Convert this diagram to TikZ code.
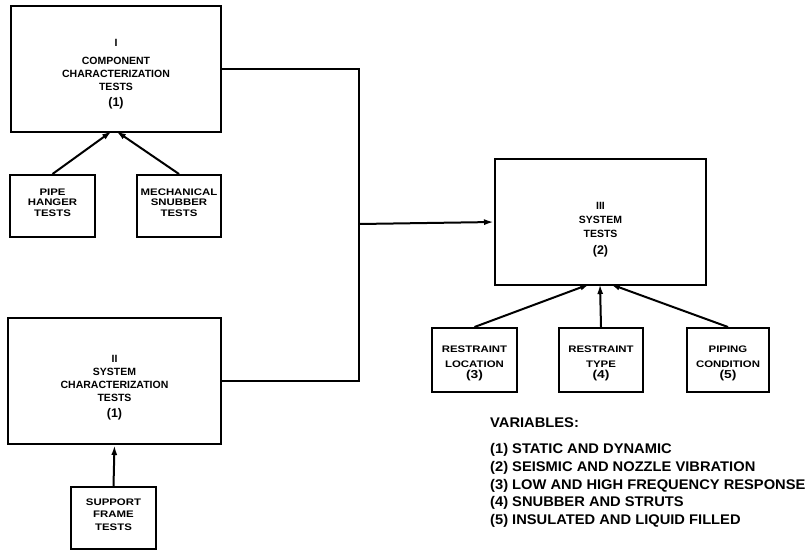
\documentclass[tikz,border=0pt]{standalone}
\usepackage{fontspec}
\setmainfont{Liberation Sans}
\newfontfamily\smallfont[FakeStretch=1.2]{Liberation Sans}
\newfontfamily\legfont[FakeStretch=1.05]{Liberation Sans}
\usetikzlibrary{arrows.meta}
\begin{document}
\begin{tikzpicture}[x=1pt,y=-1pt,
  box/.style={draw,line width=2pt,inner sep=0pt},
  bigtext/.style={inner sep=0pt,align=center,font=\bfseries\fontsize{10.5}{13}\selectfont},
  smalltext/.style={inner sep=0pt,align=center,font=\smallfont\bfseries\fontsize{9.5}{10.5}\selectfont},
  legend/.style={inner sep=0pt,anchor=base west,font=\legfont\bfseries\fontsize{14}{16}\selectfont},
  conn/.style={line width=2pt},
  arr/.style={line width=2pt,-{Latex[length=10pt,width=6pt]}}]
\useasboundingbox (0,0) rectangle (806,550);
% main boxes
\node[box,minimum width=210pt,minimum height=126pt] (I) at (116,68.5) {};
\node[bigtext] (It) at ([yshift=-5.5pt]I.center)
  {I\\[5pt]COMPONENT\\CHARACTERIZATION\\TESTS\\[3pt]{\fontsize{12.5}{13}\selectfont(1)}};
\node[box,minimum width=213pt,minimum height=126pt] (II) at (114.5,381) {};
\node[bigtext] (IIt) at ([yshift=-6.5pt]II.center)
  {II\\SYSTEM\\CHARACTERIZATION\\TESTS\\[3pt]{\fontsize{12.5}{13}\selectfont(1)}};
\node[box,minimum width=211pt,minimum height=126pt] (III) at (600.5,222) {};
\node[bigtext,font=\bfseries\fontsize{10.5}{14}\selectfont] (IIIt) at ([yshift=-7.5pt]III.center)
  {III\\SYSTEM\\TESTS\\[3pt]{\fontsize{12.5}{13}\selectfont(2)}};
% small boxes
\node[box,minimum width=85pt,minimum height=62pt] (hanger) at (52.5,206) {};
\node[smalltext] (hangert) at ([yshift=3.5pt]hanger.center) {PIPE\\HANGER\\TESTS};
\node[box,minimum width=84pt,minimum height=62pt] (snubber) at (179,206) {};
\node[smalltext] (snubbert) at ([yshift=3.5pt]snubber.center) {MECHANICAL\\SNUBBER\\TESTS};
\node[box,minimum width=85pt,minimum height=62pt] (support) at (113.5,518) {};
\node[smalltext,font=\smallfont\bfseries\fontsize{9.5}{12.5}\selectfont] (supportt) at ([yshift=3.5pt]support.center) {SUPPORT\\FRAME\\TESTS};
\node[box,minimum width=85pt,minimum height=64pt] (loc) at (474.5,360) {};
\node[smalltext] (loct) at ([yshift=-3.5pt]loc.center) {RESTRAINT\\[4pt]LOCATION\\[1pt]{\fontsize{11.5}{12}\selectfont(3)}};
\node[box,minimum width=84pt,minimum height=64pt] (type) at (601,360) {};
\node[smalltext] (typet) at ([yshift=-3.5pt]type.center) {RESTRAINT\\[4pt]TYPE\\[1pt]{\fontsize{11.5}{12}\selectfont(4)}};
\node[box,minimum width=82pt,minimum height=64pt] (pipe) at (728,360) {};
\node[smalltext] (pipet) at ([yshift=-3.5pt]pipe.center) {PIPING\\[4pt]CONDITION\\[1pt]{\fontsize{11.5}{12}\selectfont(5)}};
% connection points
\coordinate (Ia) at (112,131);
\coordinate (Ib) at (116,131);
\coordinate (IIIa) at (590,284);
\coordinate (IIIb) at (600,284);
\coordinate (IIIc) at (610,284);
\coordinate (jx) at (359,224);
% connectors
\draw[arr] (hanger.north) -- (Ia);
\draw[arr] (snubber.north) -- (Ib);
\draw[arr] (support.north) -- (II.south);
\draw[conn] (I.east) -| (jx) |- (II.east);
\draw[arr] (jx) -- (III.west);
\draw[arr] (loc.north) -- (IIIa);
\draw[arr] (type.north) -- (IIIb);
\draw[arr] (pipe.north) -- (IIIc);
% legend
\node[legend] (v0) at (490,427) {VARIABLES:};
\node[legend] (v1) at (490,453) {(1) STATIC AND DYNAMIC};
\node[legend] (v2) at (490,471) {(2) SEISMIC AND NOZZLE VIBRATION};
\node[legend] (v3) at (490,489) {(3) LOW AND HIGH FREQUENCY RESPONSE};
\node[legend] (v4) at (490,506) {(4) SNUBBER AND STRUTS};
\node[legend] (v5) at (490,524) {(5) INSULATED AND LIQUID FILLED};
\end{tikzpicture}
\end{document}
